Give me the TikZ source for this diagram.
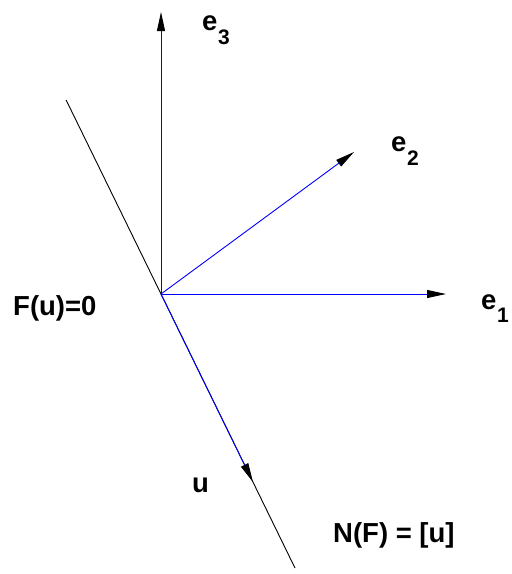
\documentclass[tikz,border=0pt]{standalone}
\usepackage{fontspec}
\setmainfont{Liberation Sans}
\usetikzlibrary{arrows.meta,calc}
\begin{document}
\begin{tikzpicture}[x=1pt,y=-1pt,
  vec/.style={blue,line width=0.9pt,-{Triangle[length=19pt,width=8pt,color=black]}},
  axis/.style={black,line width=0.9pt},
  lbl/.style={anchor=base west,inner sep=0pt,font=\fontsize{27.5}{32}\selectfont\bfseries},
  sub/.style={anchor=base west,inner sep=0pt,font=\fontsize{21}{24}\selectfont\bfseries}]
\useasboundingbox (0,0) rectangle (512,574);
\coordinate (O) at (161,294);
\coordinate (B) at (295,568);
\coordinate (A) at ($(O)!-0.708!(B)$);
\coordinate (t3) at (161,12);
\coordinate (t2) at (354,152);
\coordinate (t1) at (446,294);
\coordinate (tu) at ($(O)!0.686!(B)$);
\draw[axis] (A) -- (B);
\draw[vec] (O) -- (t3);
\draw[vec] (O) -- (t2);
\draw[vec] (O) -- (t1);
\draw[vec] (O) -- (tu);
\node[lbl] (e3) at (202,30) {e};
\node[sub] (s3) at (218,44) {3};
\node[lbl] (e2) at (391,151) {e};
\node[sub] (s2) at (407,165) {2};
\node[lbl] (e1) at (481,309) {e};
\node[sub] (s1) at (497,322) {1};
\node[lbl] (F) at (13,315) {F(u)=0};
\node[lbl] (u) at (192,492) {u};
\node[lbl] (N) at (333,542) {N(F) = [u]};
\end{tikzpicture}
\end{document}
